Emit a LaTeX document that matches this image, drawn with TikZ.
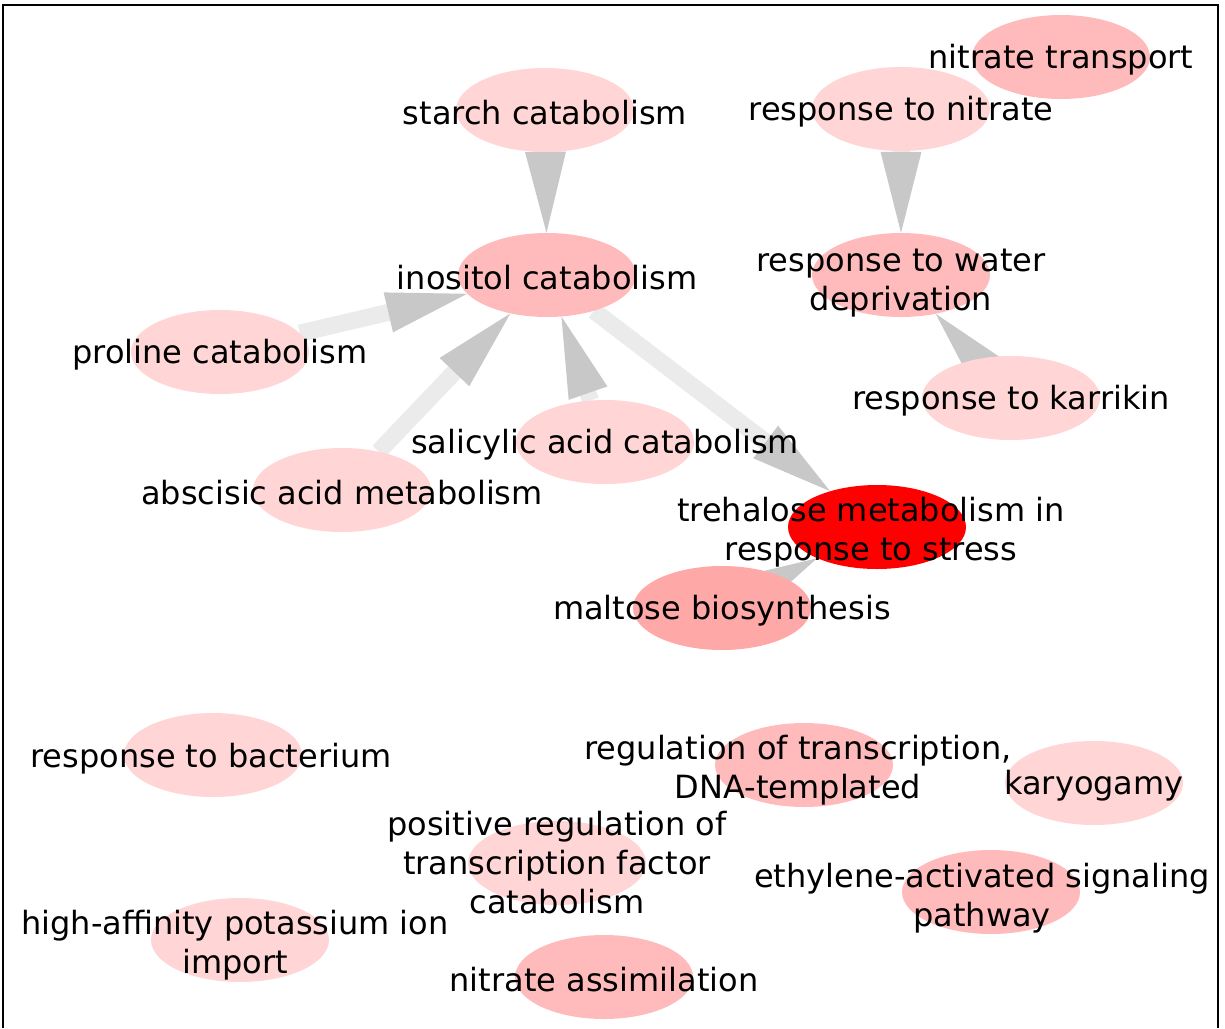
\documentclass[tikz,border=0pt]{standalone}
\usepackage{fontspec}
\setmainfont{DejaVu Sans}
\usetikzlibrary{arrows.meta, shapes.geometric, backgrounds}
\definecolor{lightterm}{RGB}{255,213,213}
\definecolor{midterm}{RGB}{255,187,187}
\definecolor{darkterm}{RGB}{255,168,168}
\definecolor{topterm}{RGB}{255,0,0}
\definecolor{shaftgray}{RGB}{235,235,235}
\definecolor{tipgray}{RGB}{200,200,200}
\tikzset{term/.style = {shape = ellipse, minimum width = 178pt, minimum height = 84pt, inner sep = 0pt}}
\tikzset{termtext/.style = {align = center, inner sep = 0pt, yshift = -3pt, font = \fontsize{32pt}{39pt}\selectfont}}
\tikzset{edge/.style = {line width = 17pt, draw = shaftgray, -{Triangle[length = 81pt, width = 41pt, color = tipgray, line width = 0pt]}}}

\begin{document}
\begin{tikzpicture}[x = 1pt, y = -1pt]
	\useasboundingbox (0, 0) rectangle (1225, 1028);

	\node[term, fill = lightterm] (starch) at (545, 110) {};
	\node[term, fill = midterm] (nittransport) at (1061, 57) {};
	\node[term, fill = lightterm] (nitrate) at (901, 109) {};
	\node[term, fill = midterm] (inositol) at (547, 275) {};
	\node[term, fill = midterm] (water) at (901, 275) {};
	\node[term, fill = lightterm] (proline) at (220, 352) {};
	\node[term, fill = lightterm] (karrikin) at (1011, 398) {};
	\node[term, fill = lightterm] (salicylic) at (605, 442) {};
	\node[term, fill = lightterm] (abscisic) at (342, 490) {};
	\node[term, fill = topterm] (trehalose) at (877, 527) {};
	\node[term, fill = darkterm] (maltose) at (722, 608) {};
	\node[term, fill = lightterm] (bacterium) at (213, 755) {};
	\node[term, fill = midterm] (regulation) at (804, 765) {};
	\node[term, fill = lightterm] (karyogamy) at (1094, 783) {};
	\node[term, fill = lightterm] (tfcatab) at (557, 863) {};
	\node[term, fill = midterm] (ethylene) at (991, 892) {};
	\node[term, fill = lightterm] (potassium) at (240, 940) {};
	\node[term, fill = midterm] (nitassim) at (604, 977) {};

	\begin{scope}[on background layer]
		\draw[edge] (starch) to (inositol);
		\draw[edge] (proline) to (inositol);
		\draw[edge] (abscisic) to (inositol);
		\draw[edge] (salicylic) to (inositol);
		\draw[edge] (inositol) to (trehalose);
		\draw[edge] (maltose) to (trehalose);
		\draw[edge] (nitrate) to (water);
		\draw[edge] (karrikin) to (water);
	\end{scope}

	\node[termtext] at (starch) {starch catabolism};
	\node[termtext] at (nittransport) {nitrate transport};
	\node[termtext] at (nitrate) {response to nitrate};
	\node[termtext] at (inositol) {inositol catabolism};
	\node[termtext] at (901, 280) {response to water\\deprivation};
	\node[termtext] at (proline) {proline catabolism};
	\node[termtext] at (karrikin) {response to karrikin};
	\node[termtext] at (salicylic) {salicylic acid catabolism};
	\node[termtext] at (abscisic) {abscisic acid metabolism};
	\node[termtext] at (871, 529) {trehalose metabolism in\\response to stress};
	\node[termtext] at (maltose) {maltose biosynthesis};
	\node[termtext] at (211, 756) {response to bacterium};
	\node[termtext] at (798, 767) {regulation of transcription,\\DNA-templated};
	\node[termtext] at (karyogamy) {karyogamy};
	\node[termtext] at (557, 860) {positive regulation of\\transcription factor\\catabolism};
	\node[termtext] at (982, 895) {ethylene-activated signaling\\pathway};
	\node[termtext] at (235, 942) {high-affinity potassium ion\\import};
	\node[termtext] at (nitassim) {nitrate assimilation};

	\draw[line width = 2pt] (3, 1028) -- (3, 5) -- (1218, 5) -- (1218, 1028);
\end{tikzpicture}
\end{document}
